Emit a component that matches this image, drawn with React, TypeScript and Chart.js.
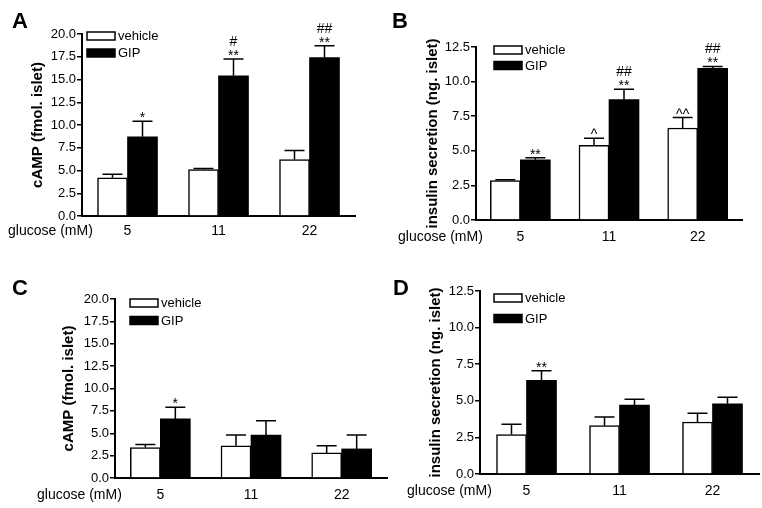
import React, { useEffect, useRef } from "react";
import { Chart, registerables } from "chart.js";

Chart.register(...registerables);

const FONT = "'Liberation Sans', Arial, Helvetica, sans-serif";

// ---------- data ----------
const categories = ["5", "11", "22"];
const seriesNames = ["vehicle", "GIP"];
const campTitle = "cAMP (fmol. islet)";
const insulinTitle = "insulin secretion (ng. islet)";
const xLabel = "glucose (mM)";

// Panel A (cAMP)
const aVehicle = [4.2, 5.1, 6.2];
const aVehicleErr = [0.4, 0.12, 1.0];
const aGIP = [8.7, 15.4, 17.4];
const aGIPErr = [1.7, 1.85, 1.3];
const aVehicleMarks = [[], [], []];
const aGIPMarks = [["*"], ["**", "#"], ["**", "##"]];

// Panel B (insulin)
const bVehicle = [2.85, 5.4, 6.65];
const bVehicleErr = [0.05, 0.5, 0.75];
const bGIP = [4.35, 8.7, 10.95];
const bGIPErr = [0.15, 0.75, 0.15];
const bVehicleMarks = [[], ["^"], ["^^"]];
const bGIPMarks = [["**"], ["**", "##"], ["**", "##"]];

// Panel C (cAMP)
const cVehicle = [3.4, 3.6, 2.8];
const cVehicleErr = [0.35, 1.2, 0.8];
const cGIP = [6.6, 4.8, 3.25];
const cGIPErr = [1.3, 1.6, 1.55];
const cVehicleMarks = [[], [], []];
const cGIPMarks = [["*"], [], []];

// Panel D (insulin)
const dVehicle = [2.7, 3.3, 3.55];
const dVehicleErr = [0.7, 0.6, 0.6];
const dGIP = [6.4, 4.7, 4.8];
const dGIPErr = [0.65, 0.4, 0.45];
const dVehicleMarks = [[], [], []];
const dGIPMarks = [["**"], [], []];

const campMax = 20;
const insulinMax = 12.5;
const yStep = 2.5;

// ---------- layout (pixels) ----------
type Panel = {
  label: string; labelX: number; labelY: number;
  panelLeft: number; axisLeft: number; axisRight: number; top: number; bottom: number;
  titleX: number; tickPad: number; glucoseX: number;
  legendX: number; legendY: number; legendGap: number;
  yTitle: string; yMax: number;
  vehicle: number[]; vehicleErr: number[]; gip: number[]; gipErr: number[];
  vehicleMarks: string[][]; gipMarks: string[][];
};

const panels: Panel[] = [
  { label: "A", labelX: 12, labelY: 28, panelLeft: 0, axisLeft: 82, axisRight: 355, top: 34, bottom: 216,
    titleX: 38, tickPad: 7, glucoseX: 8, legendX: 87, legendY: 32, legendGap: 17,
    yTitle: campTitle, yMax: campMax,
    vehicle: aVehicle, vehicleErr: aVehicleErr, gip: aGIP, gipErr: aGIPErr,
    vehicleMarks: aVehicleMarks, gipMarks: aGIPMarks },
  { label: "B", labelX: 392, labelY: 28, panelLeft: 380, axisLeft: 476, axisRight: 742, top: 47, bottom: 220,
    titleX: 433, tickPad: 9, glucoseX: 398, legendX: 494, legendY: 46, legendGap: 15.5,
    yTitle: insulinTitle, yMax: insulinMax,
    vehicle: bVehicle, vehicleErr: bVehicleErr, gip: bGIP, gipErr: bGIPErr,
    vehicleMarks: bVehicleMarks, gipMarks: bGIPMarks },
  { label: "C", labelX: 12, labelY: 295, panelLeft: 0, axisLeft: 115, axisRight: 387, top: 299, bottom: 478,
    titleX: 69, tickPad: 9, glucoseX: 37, legendX: 130, legendY: 299, legendGap: 17.5,
    yTitle: campTitle, yMax: campMax,
    vehicle: cVehicle, vehicleErr: cVehicleErr, gip: cGIP, gipErr: cGIPErr,
    vehicleMarks: cVehicleMarks, gipMarks: cGIPMarks },
  { label: "D", labelX: 393, labelY: 295, panelLeft: 380, axisLeft: 480, axisRight: 759, top: 291, bottom: 474,
    titleX: 436, tickPad: 9, glucoseX: 407, legendX: 494, legendY: 294, legendGap: 20.5,
    yTitle: insulinTitle, yMax: insulinMax,
    vehicle: dVehicle, vehicleErr: dVehicleErr, gip: dGIP, gipErr: dGIPErr,
    vehicleMarks: dVehicleMarks, gipMarks: dGIPMarks },
];

const W = 762;
const H = 508;
const X_AXIS_H = 30;

const decorPlugin = {
  id: "panelDecor",
  afterDatasetsDraw(chart: any, _args: any, opts: any) {
    const ctx = chart.ctx;
    const yScale = chart.scales.y;
    ctx.save();
    ctx.strokeStyle = "#000";
    ctx.fillStyle = "#000";
    ctx.lineWidth = 1.5;
    chart.data.datasets.forEach((ds: any, i: number) => {
      const meta = chart.getDatasetMeta(i);
      const errs = opts.errs[i];
      const marks = opts.marks[i];
      meta.data.forEach((bar: any, j: number) => {
        const v = ds.data[j];
        const e = errs[j];
        const yTop = yScale.getPixelForValue(v);
        const yErr = yScale.getPixelForValue(v + e);
        const x = bar.x;
        ctx.beginPath();
        ctx.moveTo(x, yTop);
        ctx.lineTo(x, yErr);
        ctx.moveTo(x - 10, yErr);
        ctx.lineTo(x + 10, yErr);
        ctx.stroke();
        const lines = marks[j] || [];
        ctx.font = `14px ${FONT}`;
        ctx.textAlign = "center";
        ctx.textBaseline = "alphabetic";
        lines.forEach((t: string, k: number) => {
          ctx.fillText(t, x, yErr + 1 - 14 * k);
        });
      });
    });
    ctx.restore();
  },
  afterDraw(chart: any, _args: any, opts: any) {
    const ctx = chart.ctx;
    const area = chart.chartArea;
    ctx.save();
    ctx.fillStyle = "#000";
    // panel letter
    ctx.font = `bold 22px ${FONT}`;
    ctx.textAlign = "left";
    ctx.textBaseline = "alphabetic";
    ctx.fillText(opts.label, opts.labelX, opts.labelY);
    // glucose label
    ctx.font = `14px ${FONT}`;
    ctx.textBaseline = "middle";
    ctx.fillText(opts.xLabel, opts.glucoseX, area.bottom + opts.tickPad + 8.4);
    // legend
    chart.data.datasets.forEach((ds: any, i: number) => {
      const y = opts.legendY + i * opts.legendGap;
      ctx.fillStyle = ds.backgroundColor;
      ctx.fillRect(opts.legendX, y, 28, 8);
      ctx.strokeStyle = "#000";
      ctx.lineWidth = 1.5;
      ctx.strokeRect(opts.legendX, y, 28, 8);
      ctx.fillStyle = "#000";
      ctx.font = `13px ${FONT}`;
      ctx.textAlign = "left";
      ctx.textBaseline = "middle";
      ctx.fillText(ds.label, opts.legendX + 31, y + 4.5);
    });
    ctx.restore();
  },
};

function PanelChart({ p }: { p: Panel }) {
  const ref = useRef<HTMLCanvasElement | null>(null);
  useEffect(() => {
    if (!ref.current) return;
    const chart = new Chart(ref.current, {
      type: "bar",
      data: {
        labels: categories,
        datasets: [
          { label: seriesNames[0], data: p.vehicle, backgroundColor: "#ffffff", borderColor: "#000000", borderWidth: 1.5, barThickness: 30 },
          { label: seriesNames[1], data: p.gip, backgroundColor: "#000000", borderColor: "#000000", borderWidth: 0, barThickness: 30 },
        ],
      },
      options: {
        responsive: false,
        animation: false,
        devicePixelRatio: 1,
        events: [],
        layout: {
          padding: { left: p.panelLeft, top: p.top, right: W - p.axisRight, bottom: Math.max(0, H - p.bottom - X_AXIS_H) },
        },
        plugins: {
          legend: { display: false },
          tooltip: { enabled: false },
          panelDecor: {
            errs: [p.vehicleErr, p.gipErr],
            marks: [p.vehicleMarks, p.gipMarks],
            label: p.label, labelX: p.labelX, labelY: p.labelY,
            glucoseX: p.glucoseX, tickPad: p.tickPad, xLabel,
            legendX: p.legendX, legendY: p.legendY, legendGap: p.legendGap,
          },
        } as any,
        scales: {
          x: {
            afterFit: (s: any) => { s.height = X_AXIS_H; },
            grid: { display: true, drawOnChartArea: false, drawTicks: false },
            border: { display: true, color: "#000", width: 2 },
            ticks: { color: "#000", font: { size: 14, family: FONT }, padding: p.tickPad },
          },
          y: {
            min: 0,
            max: p.yMax,
            afterFit: (s: any) => { s.width = p.axisLeft - p.panelLeft; },
            ticks: {
              stepSize: yStep,
              color: "#000",
              font: { size: 13, family: FONT },
              padding: 1,
              callback: (v: any) => Number(v).toFixed(1),
            },
            grid: { drawOnChartArea: false, drawTicks: true, tickLength: 5, color: "#000", lineWidth: 1.5 },
            border: { display: true, color: "#000", width: 2 },
            title: {
              display: true,
              text: p.yTitle,
              color: "#000",
              font: { size: 15, weight: "bold", family: FONT },
              padding: { top: p.titleX - p.panelLeft - 9, bottom: 0 },
            },
          },
        },
      } as any,
      plugins: [decorPlugin],
    });
    return () => chart.destroy();
  }, [p]);
  return (
    <canvas
      ref={ref}
      width={W}
      height={H}
      style={{ position: "absolute", left: 0, top: 0, width: W, height: H }}
    />
  );
}

export default function App() {
  return (
    <div style={{ position: "fixed", left: 0, top: 0, width: W, height: H, background: "#fff", overflow: "hidden" }}>
      {panels.map((p) => (
        <PanelChart key={p.label} p={p} />
      ))}
    </div>
  );
}
